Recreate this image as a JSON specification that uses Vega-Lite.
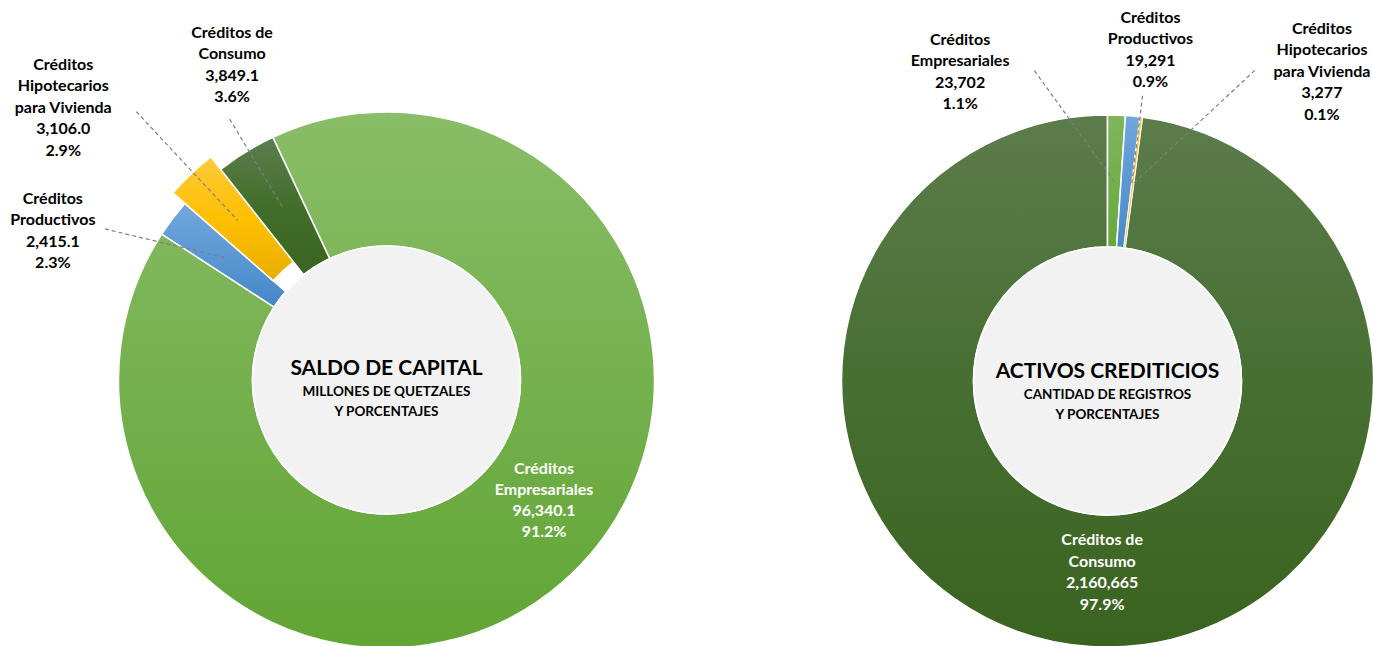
{
  "$schema": "https://vega.github.io/schema/vega-lite/v6.json",
  "padding": 0,
  "background": "#FFFFFF",
  "spacing": 65,
  "config": {"view": {"stroke": null}, "text": {"font": "Lato"}},
  "datasets": {
    "capital": [
      {"orden": 1, "categoria": "Créditos Empresariales", "valor": 96340.1, "etiqueta": "Créditos\nEmpresariales\n96,340.1\n91.2%"},
      {"orden": 2, "categoria": "Créditos Productivos", "valor": 2415.1, "etiqueta": "Créditos\nProductivos\n2,415.1\n2.3%"},
      {"orden": 3, "categoria": "Créditos Hipotecarios para Vivienda", "valor": 3106.0, "etiqueta": "Créditos\nHipotecarios\npara Vivienda\n3,106.0\n2.9%"},
      {"orden": 4, "categoria": "Créditos de Consumo", "valor": 3849.1, "etiqueta": "Créditos de\nConsumo\n3,849.1\n3.6%"}
    ],
    "registros": [
      {"orden": 1, "categoria": "Créditos Empresariales", "valor": 23702, "etiqueta": "Créditos\nEmpresariales\n23,702\n1.1%"},
      {"orden": 2, "categoria": "Créditos Productivos", "valor": 19291, "etiqueta": "Créditos\nProductivos\n19,291\n0.9%"},
      {"orden": 3, "categoria": "Créditos Hipotecarios para Vivienda", "valor": 3277, "etiqueta": "Créditos\nHipotecarios\npara Vivienda\n3,277\n0.1%"},
      {"orden": 4, "categoria": "Créditos de Consumo", "valor": 2160665, "etiqueta": "Créditos de\nConsumo\n2,160,665\n97.9%"}
    ]
  },
  "hconcat": [
    {
      "width": 773,
      "height": 760,
      "data": {"name": "capital"},
      "layer": [
        {
          "transform": [
            {"stack": "valor", "groupby": [], "sort": [{"field": "orden", "order": "ascending"}], "offset": "normalize", "as": ["t0", "t1"]},
            {"filter": "datum.orden == 1"}
          ],
          "mark": {"type": "arc", "outerRadius": 268, "innerRadius": 134, "stroke": "#FFFFFF", "strokeWidth": 1.5,
            "fill": {"gradient": "linear", "x1": 0, "y1": 0, "x2": 0, "y2": 1, "stops": [{"offset": 0, "color": "#89BD67"}, {"offset": 1, "color": "#61A534"}]}},
          "encoding": {
            "theta": {"field": "t0", "type": "quantitative", "stack": null, "scale": {"type": "linear", "domain": [0, 1], "range": [-0.4381, 5.8451]}},
            "theta2": {"field": "t1"}
          }
        },
        {
          "transform": [
            {"stack": "valor", "groupby": [], "sort": [{"field": "orden", "order": "ascending"}], "offset": "normalize", "as": ["t0", "t1"]},
            {"filter": "datum.orden == 2"}
          ],
          "mark": {"type": "arc", "outerRadius": 268, "innerRadius": 134, "stroke": "#FFFFFF", "strokeWidth": 1.5,
            "fill": {"gradient": "linear", "x1": 0, "y1": 0, "x2": 0, "y2": 1, "stops": [{"offset": 0, "color": "#72A8DC"}, {"offset": 1, "color": "#4587C9"}]}},
          "encoding": {
            "theta": {"field": "t0", "type": "quantitative", "stack": null, "scale": {"type": "linear", "domain": [0, 1], "range": [-0.4381, 5.8451]}},
            "theta2": {"field": "t1"}
          }
        },
        {
          "transform": [
            {"stack": "valor", "groupby": [], "sort": [{"field": "orden", "order": "ascending"}], "offset": "normalize", "as": ["t0", "t1"]},
            {"filter": "datum.orden == 3"}
          ],
          "mark": {"type": "arc", "outerRadius": 284, "innerRadius": 150.5, "stroke": "#FFFFFF", "strokeWidth": 1.5,
            "fill": {"gradient": "linear", "x1": 0, "y1": 0, "x2": 0, "y2": 1, "stops": [{"offset": 0, "color": "#FFC93C"}, {"offset": 0.5, "color": "#FFC000"}, {"offset": 1, "color": "#E8AE00"}]}},
          "encoding": {
            "theta": {"field": "t0", "type": "quantitative", "stack": null, "scale": {"type": "linear", "domain": [0, 1], "range": [-0.4381, 5.8451]}},
            "theta2": {"field": "t1"}
          }
        },
        {
          "transform": [
            {"stack": "valor", "groupby": [], "sort": [{"field": "orden", "order": "ascending"}], "offset": "normalize", "as": ["t0", "t1"]},
            {"filter": "datum.orden == 4"}
          ],
          "mark": {"type": "arc", "outerRadius": 268, "innerRadius": 134, "stroke": "#FFFFFF", "strokeWidth": 1.5,
            "fill": {"gradient": "linear", "x1": 0, "y1": 0, "x2": 0, "y2": 1, "stops": [{"offset": 0, "color": "#5C7E50"}, {"offset": 0.5, "color": "#436E2A"}, {"offset": 1, "color": "#3A6420"}]}},
          "encoding": {
            "theta": {"field": "t0", "type": "quantitative", "stack": null, "scale": {"type": "linear", "domain": [0, 1], "range": [-0.4381, 5.8451]}},
            "theta2": {"field": "t1"}
          }
        },
        {
          "data": {"values": [{"titulo": "SALDO DE CAPITAL", "subtitulo": "MILLONES DE QUETZALES\nY PORCENTAJES"}]},
          "mark": {"type": "arc", "theta": 0, "theta2": 6.2832, "outerRadius": 134, "innerRadius": 0, "fill": "#F2F2F2", "stroke": "#FFFFFF", "strokeWidth": 1.5},
          "encoding": {}
        },
        {
          "data": {"values": [{"titulo": "SALDO DE CAPITAL", "subtitulo": "MILLONES DE QUETZALES\nY PORCENTAJES"}]},
          "mark": {"type": "text", "font": "Lato", "fontWeight": "bold", "fontSize": 21, "color": "#000000", "align": "center", "baseline": "middle", "dy": -11},
          "encoding": {"text": {"field": "titulo"}}
        },
        {
          "data": {"values": [{"titulo": "SALDO DE CAPITAL", "subtitulo": "MILLONES DE QUETZALES\nY PORCENTAJES"}]},
          "mark": {"type": "text", "font": "Lato", "fontWeight": "bold", "fontSize": 13.5, "lineHeight": 19.5, "lineBreak": "\n", "color": "#000000", "align": "center", "baseline": "middle", "dy": 12},
          "encoding": {"text": {"field": "subtitulo"}}
        },
        {
          "transform": [
            {"stack": "valor", "groupby": [], "sort": [{"field": "orden", "order": "ascending"}], "offset": "normalize", "as": ["t0", "t1"]},
            {"filter": "datum.orden == 1"}
          ],
          "mark": {"type": "text", "font": "Lato", "fontWeight": "bold", "fontSize": 16, "lineHeight": 21, "lineBreak": "\n", "color": "#FFFFFF", "align": "center", "baseline": "middle", "radius": 198.3, "thetaOffset": 2.6616, "dy": -31.5},
          "encoding": {
            "theta": {"field": "t0", "type": "quantitative", "stack": null, "scale": {"type": "linear", "domain": [0, 1], "range": [-0.4381, 5.8451]}},
            "text": {"field": "etiqueta"}
          }
        },
        {
          "transform": [
            {"stack": "valor", "groupby": [], "sort": [{"field": "orden", "order": "ascending"}], "offset": "normalize", "as": ["t0", "t1"]},
            {"filter": "datum.orden == 2"}
          ],
          "mark": {"type": "text", "font": "Lato", "fontWeight": "bold", "fontSize": 16, "lineHeight": 21.5, "lineBreak": "\n", "color": "#000000", "align": "center", "baseline": "middle", "radius": 365.5, "thetaOffset": -0.1552, "dy": -32.25},
          "encoding": {
            "theta": {"field": "t0", "type": "quantitative", "stack": null, "scale": {"type": "linear", "domain": [0, 1], "range": [-0.4381, 5.8451]}},
            "text": {"field": "etiqueta"}
          }
        },
        {
          "transform": [
            {"stack": "valor", "groupby": [], "sort": [{"field": "orden", "order": "ascending"}], "offset": "normalize", "as": ["t0", "t1"]},
            {"filter": "datum.orden == 3"}
          ],
          "mark": {"type": "text", "font": "Lato", "fontWeight": "bold", "fontSize": 16, "lineHeight": 21.5, "lineBreak": "\n", "color": "#000000", "align": "center", "baseline": "middle", "radius": 422.6, "thetaOffset": -0.0194, "dy": -43},
          "encoding": {
            "theta": {"field": "t0", "type": "quantitative", "stack": null, "scale": {"type": "linear", "domain": [0, 1], "range": [-0.4381, 5.8451]}},
            "text": {"field": "etiqueta"}
          }
        },
        {
          "transform": [
            {"stack": "valor", "groupby": [], "sort": [{"field": "orden", "order": "ascending"}], "offset": "normalize", "as": ["t0", "t1"]},
            {"filter": "datum.orden == 4"}
          ],
          "mark": {"type": "text", "font": "Lato", "fontWeight": "bold", "fontSize": 16, "lineHeight": 21.5, "lineBreak": "\n", "color": "#000000", "align": "center", "baseline": "middle", "radius": 351, "thetaOffset": 0.2114, "dy": -32.25},
          "encoding": {
            "theta": {"field": "t0", "type": "quantitative", "stack": null, "scale": {"type": "linear", "domain": [0, 1], "range": [-0.4381, 5.8451]}},
            "text": {"field": "etiqueta"}
          }
        },
        {
          "transform": [
            {"stack": "valor", "groupby": [], "sort": [{"field": "orden", "order": "ascending"}], "offset": "normalize", "as": ["t0", "t1"]},
            {"filter": "datum.orden == 2"}
          ],
          "mark": {"type": "arc", "outerRadius": 309.1, "innerRadius": 184.6, "thetaOffset": -0.3402, "theta2Offset": -0.3402, "xOffset": 19, "yOffset": -78.9, "filled": false, "stroke": "#7F7F7F", "strokeWidth": 1.2, "strokeDash": [4, 3]},
          "encoding": {
            "theta": {"field": "t0", "type": "quantitative", "stack": null, "scale": {"type": "linear", "domain": [0, 1], "range": [-0.4381, 5.8451]}},
            "theta2": {"field": "t0"}
          }
        },
        {
          "transform": [
            {"stack": "valor", "groupby": [], "sort": [{"field": "orden", "order": "ascending"}], "offset": "normalize", "as": ["t0", "t1"]},
            {"filter": "datum.orden == 3"}
          ],
          "mark": {"type": "arc", "outerRadius": 367, "innerRadius": 218, "thetaOffset": 0.1011, "theta2Offset": 0.1011, "filled": false, "stroke": "#7F7F7F", "strokeWidth": 1.2, "strokeDash": [4, 3]},
          "encoding": {
            "theta": {"field": "t0", "type": "quantitative", "stack": null, "scale": {"type": "linear", "domain": [0, 1], "range": [-0.4381, 5.8451]}},
            "theta2": {"field": "t0"}
          }
        },
        {
          "transform": [
            {"stack": "valor", "groupby": [], "sort": [{"field": "orden", "order": "ascending"}], "offset": "normalize", "as": ["t0", "t1"]},
            {"filter": "datum.orden == 4"}
          ],
          "mark": {"type": "arc", "outerRadius": 304.5, "innerRadius": 201, "thetaOffset": 0.1258, "theta2Offset": 0.1258, "filled": false, "stroke": "#7F7F7F", "strokeWidth": 1.2, "strokeDash": [4, 3]},
          "encoding": {
            "theta": {"field": "t0", "type": "quantitative", "stack": null, "scale": {"type": "linear", "domain": [0, 1], "range": [-0.4381, 5.8451]}},
            "theta2": {"field": "t0"}
          }
        }
      ]
    },
    {
      "width": 535,
      "height": 762,
      "data": {"name": "registros"},
      "layer": [
        {
          "transform": [
            {"stack": "valor", "groupby": [], "sort": [{"field": "orden", "order": "ascending"}], "offset": "normalize", "as": ["t0", "t1"]},
            {"filter": "datum.orden == 4"}
          ],
          "mark": {"type": "arc", "outerRadius": 266, "innerRadius": 134, "stroke": "#FFFFFF", "strokeWidth": 1.5,
            "fill": {"gradient": "linear", "x1": 0, "y1": 0, "x2": 0, "y2": 1, "stops": [{"offset": 0, "color": "#5C7C4C"}, {"offset": 0.5, "color": "#476F32"}, {"offset": 1, "color": "#3A6320"}]}},
          "encoding": {
            "theta": {"field": "t0", "type": "quantitative", "stack": null, "scale": {"type": "linear", "domain": [0, 1], "range": [0, 6.2832]}},
            "theta2": {"field": "t1"}
          }
        },
        {
          "transform": [
            {"stack": "valor", "groupby": [], "sort": [{"field": "orden", "order": "ascending"}], "offset": "normalize", "as": ["t0", "t1"]},
            {"filter": "datum.orden == 1"}
          ],
          "mark": {"type": "arc", "outerRadius": 266, "innerRadius": 134, "stroke": "#FFFFFF", "strokeWidth": 1.5,
            "fill": {"gradient": "linear", "x1": 0, "y1": 0, "x2": 0, "y2": 1, "stops": [{"offset": 0, "color": "#7FB65D"}, {"offset": 1, "color": "#68A93D"}]}},
          "encoding": {
            "theta": {"field": "t0", "type": "quantitative", "stack": null, "scale": {"type": "linear", "domain": [0, 1], "range": [0, 6.2832]}},
            "theta2": {"field": "t1"}
          }
        },
        {
          "transform": [
            {"stack": "valor", "groupby": [], "sort": [{"field": "orden", "order": "ascending"}], "offset": "normalize", "as": ["t0", "t1"]},
            {"filter": "datum.orden == 2"}
          ],
          "mark": {"type": "arc", "outerRadius": 266, "innerRadius": 134, "stroke": "#FFFFFF", "strokeWidth": 1.5,
            "fill": {"gradient": "linear", "x1": 0, "y1": 0, "x2": 0, "y2": 1, "stops": [{"offset": 0, "color": "#70A7DB"}, {"offset": 1, "color": "#4889CA"}]}},
          "encoding": {
            "theta": {"field": "t0", "type": "quantitative", "stack": null, "scale": {"type": "linear", "domain": [0, 1], "range": [0, 6.2832]}},
            "theta2": {"field": "t1"}
          }
        },
        {
          "transform": [
            {"stack": "valor", "groupby": [], "sort": [{"field": "orden", "order": "ascending"}], "offset": "normalize", "as": ["t0", "t1"]},
            {"filter": "datum.orden == 3"}
          ],
          "mark": {"type": "arc", "outerRadius": 266, "innerRadius": 134, "stroke": "#FFFFFF", "strokeWidth": 0.8,
            "fill": {"gradient": "linear", "x1": 0, "y1": 0, "x2": 0, "y2": 1, "stops": [{"offset": 0, "color": "#FFC83A"}, {"offset": 1, "color": "#E8AE00"}]}},
          "encoding": {
            "theta": {"field": "t0", "type": "quantitative", "stack": null, "scale": {"type": "linear", "domain": [0, 1], "range": [0, 6.2832]}},
            "theta2": {"field": "t1"}
          }
        },
        {
          "data": {"values": [{"titulo": "ACTIVOS CREDITICIOS", "subtitulo": "CANTIDAD DE REGISTROS\nY PORCENTAJES"}]},
          "mark": {"type": "arc", "theta": 0, "theta2": 6.2832, "outerRadius": 134, "innerRadius": 0, "fill": "#F2F2F2", "stroke": "#FFFFFF", "strokeWidth": 1.5},
          "encoding": {}
        },
        {
          "data": {"values": [{"titulo": "ACTIVOS CREDITICIOS", "subtitulo": "CANTIDAD DE REGISTROS\nY PORCENTAJES"}]},
          "mark": {"type": "text", "font": "Lato", "fontWeight": "bold", "fontSize": 21, "color": "#000000", "align": "center", "baseline": "middle", "dy": -9},
          "encoding": {"text": {"field": "titulo"}}
        },
        {
          "data": {"values": [{"titulo": "ACTIVOS CREDITICIOS", "subtitulo": "CANTIDAD DE REGISTROS\nY PORCENTAJES"}]},
          "mark": {"type": "text", "font": "Lato", "fontWeight": "bold", "fontSize": 13.5, "lineHeight": 19.5, "lineBreak": "\n", "color": "#000000", "align": "center", "baseline": "middle", "dy": 14},
          "encoding": {"text": {"field": "subtitulo"}}
        },
        {
          "transform": [
            {"stack": "valor", "groupby": [], "sort": [{"field": "orden", "order": "ascending"}], "offset": "normalize", "as": ["t0", "t1"]},
            {"filter": "datum.orden == 1"}
          ],
          "mark": {"type": "text", "font": "Lato", "fontWeight": "bold", "fontSize": 16, "lineHeight": 21.5, "lineBreak": "\n", "color": "#000000", "align": "center", "baseline": "middle", "radius": 342.4, "thetaOffset": -0.445, "dy": -32.25},
          "encoding": {
            "theta": {"field": "t0", "type": "quantitative", "stack": null, "scale": {"type": "linear", "domain": [0, 1], "range": [0, 6.2832]}},
            "text": {"field": "etiqueta"}
          }
        },
        {
          "transform": [
            {"stack": "valor", "groupby": [], "sort": [{"field": "orden", "order": "ascending"}], "offset": "normalize", "as": ["t0", "t1"]},
            {"filter": "datum.orden == 2"}
          ],
          "mark": {"type": "text", "font": "Lato", "fontWeight": "bold", "fontSize": 16, "lineHeight": 21.5, "lineBreak": "\n", "color": "#000000", "align": "center", "baseline": "middle", "radius": 333.8, "thetaOffset": 0.0616, "dy": -32.25},
          "encoding": {
            "theta": {"field": "t0", "type": "quantitative", "stack": null, "scale": {"type": "linear", "domain": [0, 1], "range": [0, 6.2832]}},
            "text": {"field": "etiqueta"}
          }
        },
        {
          "transform": [
            {"stack": "valor", "groupby": [], "sort": [{"field": "orden", "order": "ascending"}], "offset": "normalize", "as": ["t0", "t1"]},
            {"filter": "datum.orden == 3"}
          ],
          "mark": {"type": "text", "font": "Lato", "fontWeight": "bold", "fontSize": 16, "lineHeight": 21.5, "lineBreak": "\n", "color": "#000000", "align": "center", "baseline": "middle", "radius": 376.3, "thetaOffset": 0.4841, "dy": -43},
          "encoding": {
            "theta": {"field": "t0", "type": "quantitative", "stack": null, "scale": {"type": "linear", "domain": [0, 1], "range": [0, 6.2832]}},
            "text": {"field": "etiqueta"}
          }
        },
        {
          "transform": [
            {"stack": "valor", "groupby": [], "sort": [{"field": "orden", "order": "ascending"}], "offset": "normalize", "as": ["t0", "t1"]},
            {"filter": "datum.orden == 4"}
          ],
          "mark": {"type": "text", "font": "Lato", "fontWeight": "bold", "fontSize": 16, "lineHeight": 21.5, "lineBreak": "\n", "color": "#FFFFFF", "align": "center", "baseline": "middle", "radius": 191.6, "thetaOffset": 3.0377, "dy": -32.25},
          "encoding": {
            "theta": {"field": "t0", "type": "quantitative", "stack": null, "scale": {"type": "linear", "domain": [0, 1], "range": [0, 6.2832]}},
            "text": {"field": "etiqueta"}
          }
        },
        {
          "transform": [
            {"stack": "valor", "groupby": [], "sort": [{"field": "orden", "order": "ascending"}], "offset": "normalize", "as": ["t0", "t1"]},
            {"filter": "datum.orden == 1"}
          ],
          "mark": {"type": "arc", "outerRadius": 294.5, "innerRadius": 156, "thetaOffset": -0.6248, "theta2Offset": -0.6248, "xOffset": 99.2, "yOffset": -71.5, "filled": false, "stroke": "#7F7F7F", "strokeWidth": 1.2, "strokeDash": [4, 3]},
          "encoding": {
            "theta": {"field": "t0", "type": "quantitative", "stack": null, "scale": {"type": "linear", "domain": [0, 1], "range": [0, 6.2832]}},
            "theta2": {"field": "t0"}
          }
        },
        {
          "transform": [
            {"stack": "valor", "groupby": [], "sort": [{"field": "orden", "order": "ascending"}], "offset": "normalize", "as": ["t0", "t1"]},
            {"filter": "datum.orden == 2"}
          ],
          "mark": {"type": "arc", "outerRadius": 287.5, "innerRadius": 198, "thetaOffset": 0.0547, "theta2Offset": 0.0547, "filled": false, "stroke": "#7F7F7F", "strokeWidth": 1.2, "strokeDash": [4, 3]},
          "encoding": {
            "theta": {"field": "t0", "type": "quantitative", "stack": null, "scale": {"type": "linear", "domain": [0, 1], "range": [0, 6.2832]}},
            "theta2": {"field": "t0"}
          }
        },
        {
          "transform": [
            {"stack": "valor", "groupby": [], "sort": [{"field": "orden", "order": "ascending"}], "offset": "normalize", "as": ["t0", "t1"]},
            {"filter": "datum.orden == 3"}
          ],
          "mark": {"type": "arc", "outerRadius": 319.5, "innerRadius": 153, "thetaOffset": 0.698, "theta2Offset": 0.698, "xOffset": -86.4, "yOffset": -92.7, "filled": false, "stroke": "#7F7F7F", "strokeWidth": 1.2, "strokeDash": [4, 3]},
          "encoding": {
            "theta": {"field": "t0", "type": "quantitative", "stack": null, "scale": {"type": "linear", "domain": [0, 1], "range": [0, 6.2832]}},
            "theta2": {"field": "t0"}
          }
        }
      ]
    }
  ]
}
